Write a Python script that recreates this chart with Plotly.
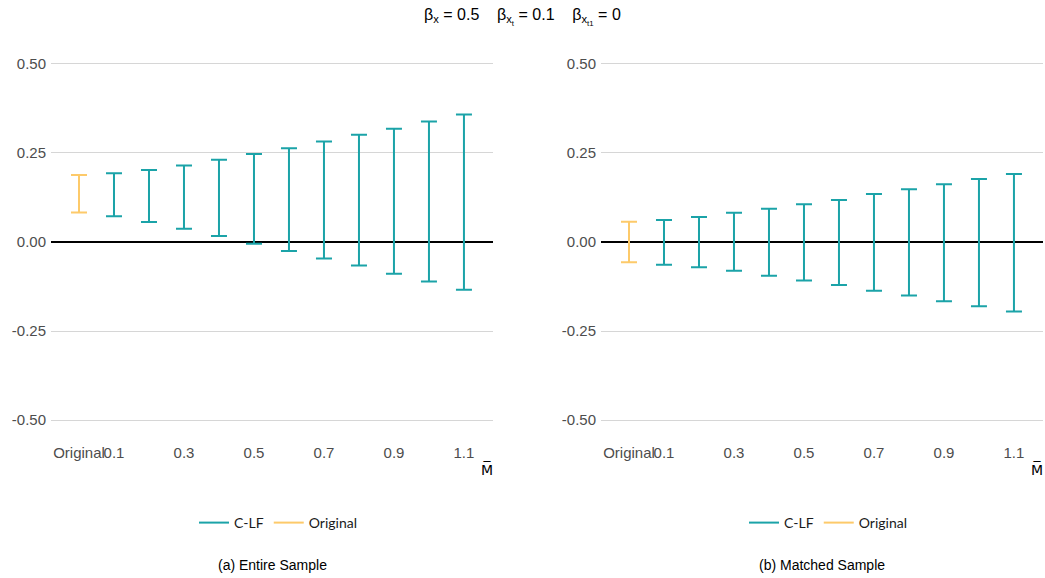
import plotly.graph_objects as go

# Categories along the x axis
categories = ["Original", "0.1", "0.2", "0.3", "0.4", "0.5", "0.6",
              "0.7", "0.8", "0.9", "1.0", "1.1"]
tick_labels = ["Original", "0.1", "0.3", "0.5", "0.7", "0.9", "1.1"]

# (a) Entire sample: interval bounds
entire_lower = [0.083, 0.072, 0.056, 0.037, 0.017, -0.005, -0.025,
                -0.046, -0.066, -0.089, -0.111, -0.134]
entire_upper = [0.188, 0.193, 0.202, 0.215, 0.231, 0.247, 0.263,
                0.282, 0.301, 0.318, 0.338, 0.358]

# (b) Matched sample: interval bounds
matched_lower = [-0.057, -0.064, -0.071, -0.081, -0.095, -0.108, -0.121,
                 -0.137, -0.150, -0.166, -0.180, -0.195]
matched_upper = [0.057, 0.062, 0.070, 0.082, 0.093, 0.106, 0.118,
                 0.135, 0.148, 0.162, 0.177, 0.191]

TEAL = "#1ba3a8"
GOLD = "#fdca6a"
W, H = 1045, 578


def px_x(p):
    return p / W


def px_y(p):
    return 1 - p / H


fig = go.Figure()

panels = [
    (entire_lower, entire_upper, "x", "y", "legend", "(a) Entire Sample"),
    (matched_lower, matched_upper, "x2", "y2", "legend2", "(b) Matched Sample"),
]

for lower, upper, xa, ya, lg, _ in panels:
    for name, color in [("Original", GOLD), ("C-LF", TEAL)]:
        sel = [i for i, c in enumerate(categories) if (c == "Original") == (name == "Original")]
        xs = [categories[i] for i in sel]
        mid = [(lower[i] + upper[i]) / 2 for i in sel]
        half = [(upper[i] - lower[i]) / 2 for i in sel]
        fig.add_trace(go.Scatter(
            x=xs, y=mid, mode="markers",
            marker=dict(size=0.1, color=color, opacity=0),
            error_y=dict(type="data", array=half, symmetric=True,
                         color=color, thickness=2, width=8),
            showlegend=False, xaxis=xa, yaxis=ya, hoverinfo="skip",
        ))
    # legend entries
    for name, color in [("C-LF", TEAL), ("Original", GOLD)]:
        fig.add_trace(go.Scatter(
            x=[None], y=[None], mode="lines", name=name,
            line=dict(color=color, width=2),
            xaxis=xa, yaxis=ya, legend=lg, showlegend=True,
        ))

axis_font = dict(family="Liberation Sans, Arial, sans-serif", size=15, color="#4d4d4d")

xcommon = dict(
    type="category", categoryorder="array", categoryarray=categories,
    range=[-0.8, 11.83], tickmode="array", tickvals=tick_labels,
    ticktext=tick_labels, tickangle=0, showgrid=False, zeroline=False,
    showline=False, ticks="", tickfont=axis_font, ticklabelstandoff=4,
)
ycommon = dict(
    range=[-0.55, 0.55], tickvals=[-0.5, -0.25, 0, 0.25, 0.5],
    ticktext=["-0.50", "-0.25", "0.00", "0.25", "0.50"],
    showgrid=True, gridcolor="#d6d6d6", gridwidth=1,
    zeroline=True, zerolinecolor="black", zerolinewidth=2,
    showline=False, ticks="", tickfont=axis_font, ticklabelstandoff=4,
)

ytop, ybot = px_y(46), px_y(438)
fig.update_layout(
    width=W, height=H, margin=dict(l=0, r=0, t=0, b=0),
    paper_bgcolor="white", plot_bgcolor="white",
    xaxis=dict(domain=[px_x(51), px_x(493)], anchor="y", **xcommon),
    yaxis=dict(domain=[ybot, ytop], anchor="x", **ycommon),
    xaxis2=dict(domain=[px_x(601), px_x(1043)], anchor="y2", **xcommon),
    yaxis2=dict(domain=[ybot, ytop], anchor="x2", **ycommon),
    showlegend=True,
)

legend_style = dict(
    orientation="h", yanchor="middle", xanchor="center",
    font=dict(family="Lato, sans-serif", size=14, color="#1a1a1a"),
    bgcolor="rgba(0,0,0,0)", itemwidth=30, tracegroupgap=0,
)
fig.update_layout(
    legend=dict(x=px_x(278), y=px_y(523), **legend_style),
    legend2=dict(x=px_x(828), y=px_y(523), **legend_style),
)

title_font = dict(family="Liberation Sans, Arial, sans-serif", size=16, color="black")
fig.add_annotation(
    text="β<sub>x</sub> = 0.5    β<sub>x<sub>t</sub></sub> = 0.1    β<sub>x<sub>t1</sub></sub> = 0",
    x=0.5, y=px_y(17), xref="paper", yref="paper", showarrow=False,
    font=title_font, xanchor="center", yanchor="middle",
)

cap_font = dict(family="Liberation Sans, Arial, sans-serif", size=14, color="black")
for (x0, x1), (_, _, _, _, _, cap) in zip([(51, 493), (601, 1043)], panels):
    fig.add_annotation(
        text=cap, x=px_x((x0 + x1) / 2), y=px_y(565), xref="paper", yref="paper",
        showarrow=False, font=cap_font, xanchor="center", yanchor="middle",
    )
    fig.add_annotation(
        text="M\u0305", x=px_x(x1 - 6), y=px_y(469), xref="paper", yref="paper",
        showarrow=False, font=dict(family="DejaVu Sans, sans-serif", size=14, color="black"),
        xanchor="center", yanchor="middle",
    )

fig.write_html("out.html")
